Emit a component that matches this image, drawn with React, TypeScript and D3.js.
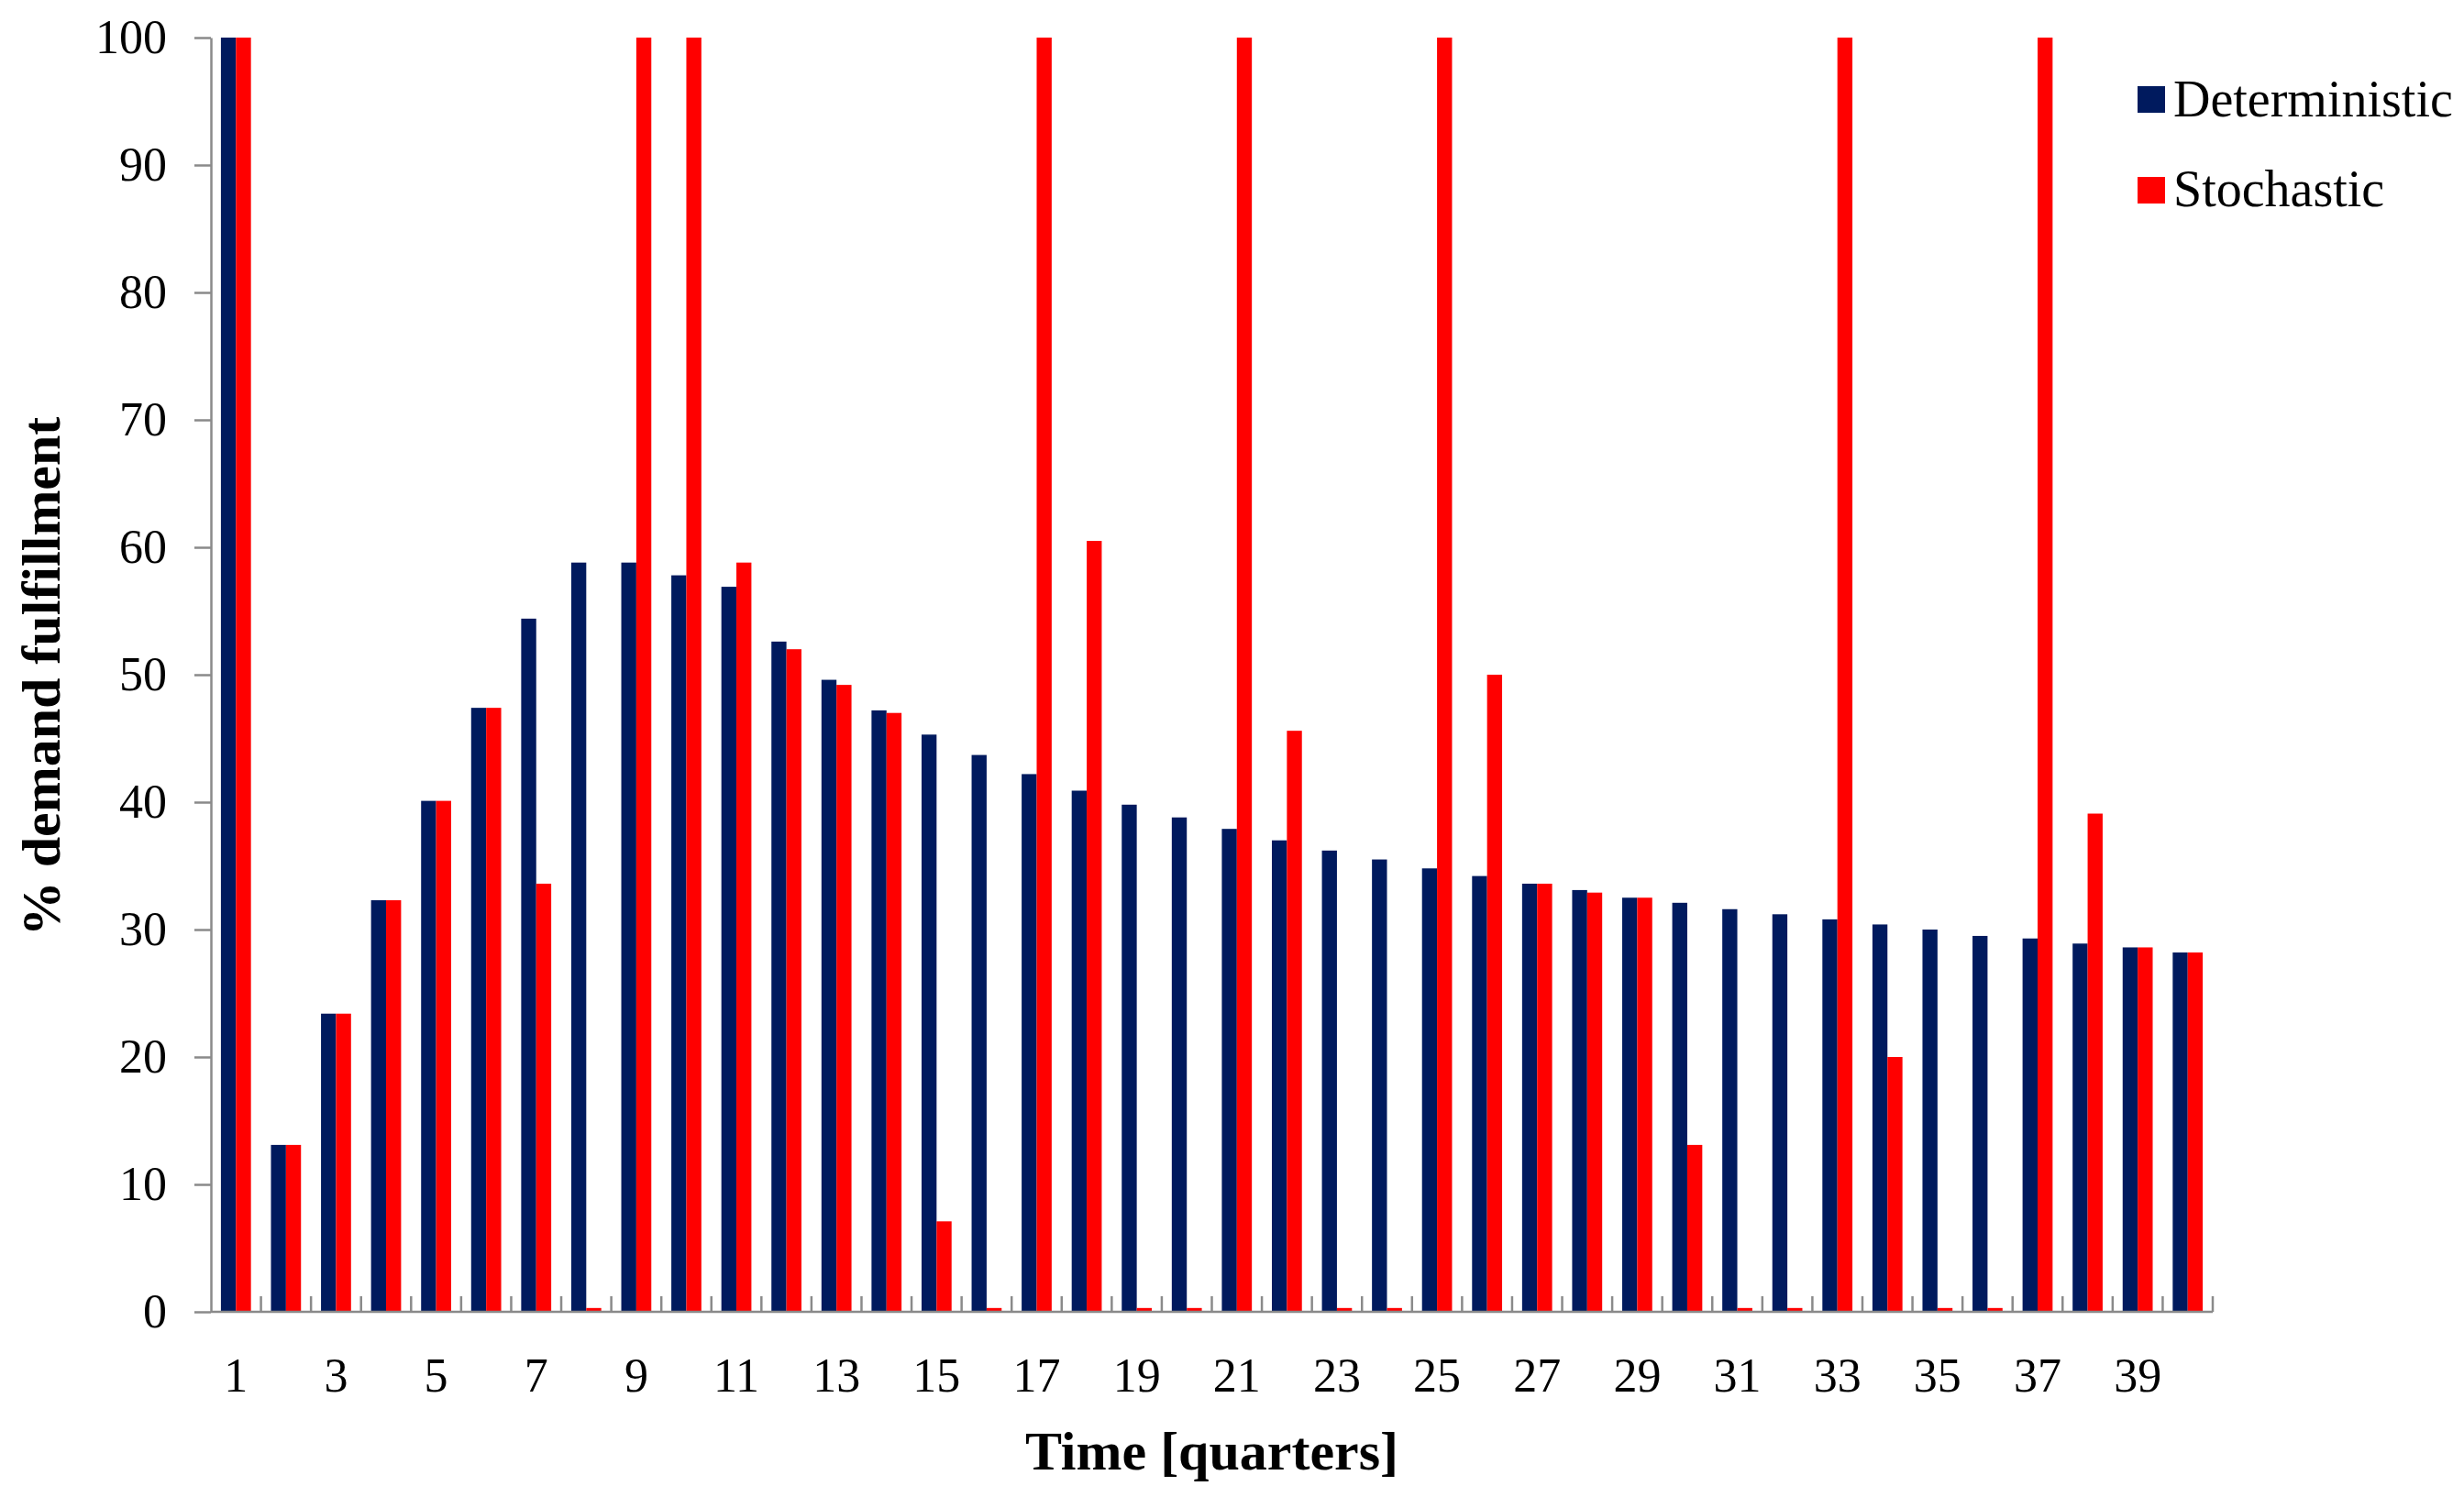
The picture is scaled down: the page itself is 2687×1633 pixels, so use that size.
import React, { useEffect, useRef } from 'react';
import * as d3 from 'd3';

const categories: number[] = [
    1, 2, 3, 4, 5, 6, 7, 8, 9, 10,
    11, 12, 13, 14, 15, 16, 17, 18, 19, 20,
    21, 22, 23, 24, 25, 26, 27, 28, 29, 30,
    31, 32, 33, 34, 35, 36, 37, 38, 39, 40
];

const deterministic: number[] = [
    100, 13.1, 23.4, 32.3, 40.1, 47.4, 54.4, 58.8, 58.8, 57.8,
    56.9, 52.6, 49.6, 47.2, 45.3, 43.7, 42.2, 40.9, 39.8, 38.8,
    37.9, 37.0, 36.2, 35.5, 34.8, 34.2, 33.6, 33.1, 32.5, 32.1,
    31.6, 31.2, 30.8, 30.4, 30.0, 29.5, 29.3, 28.9, 28.6, 28.2
];

const stochastic: number[] = [
    100, 13.1, 23.4, 32.3, 40.1, 47.4, 33.6, 0.3, 100, 100,
    58.8, 52.0, 49.2, 47.0, 7.1, 0.3, 100, 60.5, 0.3, 0.3,
    100, 45.6, 0.3, 0.3, 100, 50.0, 33.6, 32.9, 32.5, 13.1,
    0.3, 0.3, 100, 20.0, 0.3, 0.3, 100, 39.1, 28.6, 28.2
];

const seriesNames = ['Deterministic', 'Stochastic'];
const seriesColors = ['#001A5E', '#FF0000'];
const yTicks = [0, 10, 20, 30, 40, 50, 60, 70, 80, 90, 100];
const xTickLabels = [1, 3, 5, 7, 9, 11, 13, 15, 17, 19, 21, 23, 25, 27, 29, 31, 33, 35, 37, 39];

const WIDTH = 2687;
const HEIGHT = 1633;
const FONT = '"Liberation Serif", "Times New Roman", serif';

const App: React.FC = () => {
    const svgRef = useRef<SVGSVGElement>(null);

    useEffect(() => {
        if (!svgRef.current) return;
        const svg = d3.select(svgRef.current);
        svg.selectAll('*').remove();

        const left = 230, right = 2413, top = 41, bottom = 1431;
        const axisColor = '#8a8a8a';

        const x = d3.scaleBand<number>()
            .domain(categories)
            .range([left, right])
            .paddingInner(0.4)
            .paddingOuter(0.2);

        const xSeries = d3.scaleBand<string>()
            .domain(seriesNames)
            .range([0, x.bandwidth()]);

        const y = d3.scaleLinear().domain([0, 100]).range([bottom, top]);

        // bars
        const seriesData = [deterministic, stochastic];
        seriesData.forEach((vals, si) => {
            svg.append('g')
                .selectAll('rect')
                .data(categories)
                .join('rect')
                .attr('x', (c) => (x(c) as number) + (xSeries(seriesNames[si]) as number))
                .attr('width', xSeries.bandwidth())
                .attr('y', (_, i) => y(vals[i]))
                .attr('height', (_, i) => y(0) - y(vals[i]))
                .attr('fill', seriesColors[si]);
        });

        // y axis
        const yAxis = svg.append('g')
            .attr('transform', `translate(${left},0)`)
            .call(d3.axisLeft(y).tickValues(yTicks).tickSize(18).tickSizeOuter(0).tickPadding(30));
        yAxis.select('.domain').attr('stroke', axisColor).attr('stroke-width', 2.5);
        yAxis.selectAll('.tick line').attr('stroke', axisColor).attr('stroke-width', 2.5);
        yAxis.selectAll('.tick text')
            .attr('fill', '#000')
            .style('font-family', FONT)
            .style('font-size', '52px');

        // x axis line and category boundary ticks
        const xg = svg.append('g');
        xg.append('line')
            .attr('x1', left).attr('x2', right)
            .attr('y1', bottom).attr('y2', bottom)
            .attr('stroke', axisColor).attr('stroke-width', 2.5);
        const boundaries = categories.map((c) => (x(c) as number) - x.step() * x.paddingInner() / 2);
        boundaries.push(right);
        xg.selectAll('line.bt')
            .data(boundaries.slice(1))
            .join('line')
            .attr('class', 'bt')
            .attr('x1', (d) => d).attr('x2', (d) => d)
            .attr('y1', bottom).attr('y2', bottom - 17)
            .attr('stroke', axisColor).attr('stroke-width', 2.5);

        xg.selectAll('text')
            .data(xTickLabels)
            .join('text')
            .attr('x', (d) => (x(d) as number) + x.bandwidth() / 2)
            .attr('y', 1518)
            .attr('text-anchor', 'middle')
            .style('font-family', FONT)
            .style('font-size', '52px')
            .text((d) => d);

        // axis titles
        svg.append('text')
            .attr('x', (left + right) / 2)
            .attr('y', 1603)
            .attr('text-anchor', 'middle')
            .style('font-family', FONT)
            .style('font-size', '60px')
            .style('font-weight', 'bold')
            .text('Time [quarters]');

        svg.append('text')
            .attr('transform', `translate(65,${(top + bottom) / 2 + 2}) rotate(-90)`)
            .attr('text-anchor', 'middle')
            .style('font-family', FONT)
            .style('font-size', '60px')
            .style('font-weight', 'bold')
            .text('% demand fulfillment');

        // legend
        const legend = svg.append('g');
        seriesNames.forEach((name, i) => {
            legend.append('rect')
                .attr('x', 2331)
                .attr('y', 94 + i * 99)
                .attr('width', 30)
                .attr('height', 29)
                .attr('fill', seriesColors[i]);
            legend.append('text')
                .attr('x', 2370)
                .attr('y', 127 + i * 98)
                .style('font-family', FONT)
                .style('font-size', '56px')
                .text(name);
        });
    }, []);

    return (
        <svg
            ref={svgRef}
            width={WIDTH}
            height={HEIGHT}
            style={{ position: 'absolute', left: 0, top: 0, background: '#fff' }}
        />
    );
};

export default App;
